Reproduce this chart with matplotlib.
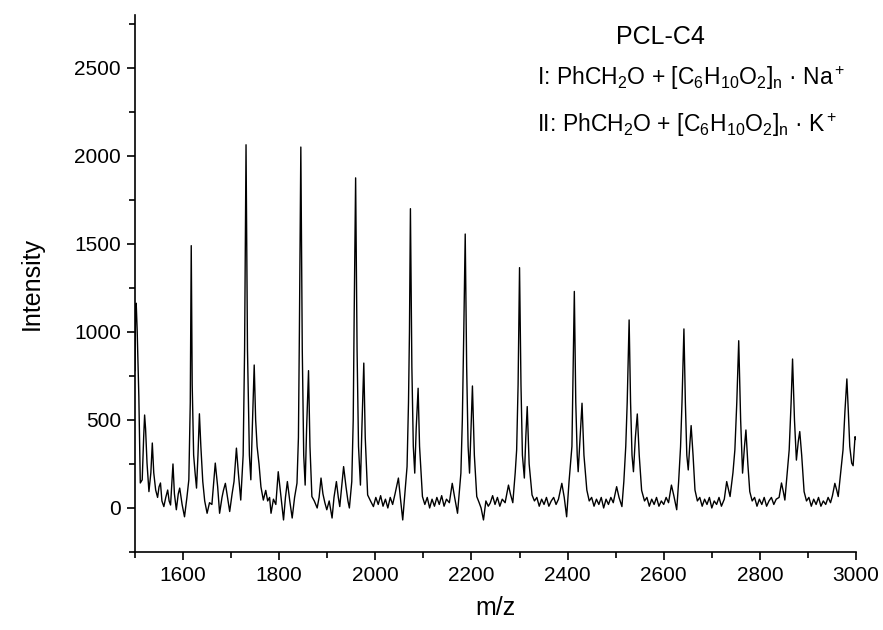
import matplotlib
matplotlib.use("Agg")
import matplotlib.pyplot as plt
from matplotlib.ticker import MultipleLocator

plt.rcParams['font.family'] = ['Liberation Sans', 'DejaVu Sans']
plt.rcParams['mathtext.fontset'] = 'custom'
plt.rcParams['mathtext.rm'] = 'Liberation Sans'
plt.rcParams['mathtext.it'] = 'Liberation Sans:italic'
plt.rcParams['mathtext.bf'] = 'Liberation Sans:bold'

# ---- data (m/z, intensity) ----
mz = [1500, 1501, 1502.5, 1504.5, 1508, 1511, 1515, 1518, 1520, 1522, 1525, 1529, 1533, 1536, 1539,
      1543, 1547, 1550, 1553, 1556, 1560, 1564, 1568, 1571, 1574, 1579, 1582, 1586, 1590, 1593,
      1598, 1603, 1608, 1612, 1615, 1617, 1619, 1622, 1625, 1628, 1631, 1634, 1637, 1641, 1645,
      1650, 1655, 1660, 1667, 1672, 1676, 1681, 1684, 1688, 1693, 1697, 1702, 1706, 1711, 1715,
      1720, 1725, 1728, 1731, 1734, 1738, 1741, 1744, 1748, 1751, 1754, 1758, 1762, 1767, 1772,
      1776, 1780, 1783, 1788, 1793, 1798, 1803, 1809, 1813, 1817, 1822, 1827, 1832, 1837, 1840,
      1842, 1845, 1848, 1851, 1854, 1857, 1861, 1864, 1868, 1873, 1879, 1883, 1887, 1891, 1895,
      1899, 1904, 1910, 1914, 1919, 1923, 1926, 1930, 1934, 1939, 1943, 1946, 1951, 1954, 1956,
      1959, 1962, 1965, 1969, 1972, 1976, 1979, 1984, 1990, 1996, 2001, 2006, 2011, 2016, 2021,
      2026, 2031, 2036, 2041, 2048, 2052, 2057, 2062, 2066, 2069, 2071, 2073, 2076, 2079, 2082,
      2085, 2089, 2092, 2098, 2103, 2108, 2113, 2118, 2123, 2128, 2133, 2138, 2143, 2148, 2154,
      2160, 2165, 2171, 2175, 2178, 2181, 2184, 2187, 2190, 2193, 2196, 2199, 2202, 2206, 2211,
      2216, 2220, 2225, 2230, 2235, 2239, 2244, 2249, 2254, 2259, 2264, 2270, 2277, 2281, 2286,
      2291, 2294, 2297, 2300, 2303, 2306, 2310, 2313, 2316, 2320, 2326, 2331, 2336, 2341, 2346,
      2351, 2356, 2361, 2366, 2371, 2376, 2381, 2388, 2393, 2398, 2403, 2409, 2411, 2414, 2417,
      2420, 2422, 2426, 2430, 2434, 2440, 2445, 2450, 2455, 2460, 2465, 2470, 2475, 2480, 2485,
      2490, 2495, 2502, 2507, 2513, 2517, 2521, 2524, 2528, 2531, 2534, 2537, 2541, 2545, 2549,
      2554, 2560, 2565, 2570, 2575, 2580, 2585, 2590, 2595, 2600, 2605, 2610, 2616, 2621, 2627,
      2631, 2635, 2638, 2642, 2645, 2648, 2651, 2654, 2657, 2661, 2665, 2670, 2675, 2680, 2685,
      2690, 2695, 2700, 2705, 2710, 2715, 2720, 2726, 2731, 2735, 2738, 2744, 2748, 2752, 2756,
      2760, 2764, 2768, 2771, 2775, 2779, 2784, 2789, 2794, 2799, 2804, 2809, 2814, 2819, 2824,
      2829, 2834, 2840, 2845, 2849, 2852, 2857, 2861, 2865, 2868, 2872, 2876, 2880, 2883, 2887,
      2892, 2897, 2902, 2907, 2912, 2917, 2922, 2927, 2932, 2937, 2942, 2947, 2951, 2956, 2960,
      2963, 2968, 2973, 2977, 2981, 2984, 2987, 2991, 2994, 2998, 3000]

intensity = [780, 1080, 1163, 1011, 632, 142, 160, 400, 528, 450, 255, 93, 200, 369, 200,
             102, 60, 120, 142, 40, 8, 60, 102, 40, 17, 250, 80, -10, 80, 113,
             20, -50, 60, 160, 600, 1490, 700, 300, 200, 113, 300, 535, 350, 150, 40,
             -30, 30, 20, 255, 120, -30, 60, 100, 140, 50, -20, 80, 150, 340, 200,
             45, 300, 900, 2063, 900, 300, 160, 450, 812, 500, 350, 250, 120, 45, 100,
             40, 60, -30, 50, 20, 206, 80, -68, 60, 150, 40, -57, 60, 141, 400,
             1000, 2050, 900, 300, 130, 450, 780, 350, 65, 40, 0, 60, 170, 80, 30,
             -10, 40, -57, 60, 150, 60, 8, 120, 235, 120, 40, 0, 150, 500, 1100,
             1875, 900, 350, 130, 450, 823, 400, 74, 40, 8, 60, 20, 70, 10, 50,
             0, 60, 20, 80, 170, 60, -68, 100, 235, 600, 1000, 1700, 800, 350, 198,
             450, 680, 350, 65, 20, 60, 0, 50, 10, 60, 20, 70, 10, 50, 30,
             140, 60, -30, 100, 198, 500, 1000, 1556, 800, 350, 198, 450, 693, 300, 65,
             30, 0, -68, 40, 10, 28, 70, 20, 60, 10, 50, 30, 130, 80, 30,
             200, 330, 700, 1365, 700, 300, 170, 400, 576, 250, 74, 40, 60, 10, 50,
             20, 60, 10, 40, 60, 20, 50, 140, 60, -50, 150, 350, 700, 1230, 600,
             300, 206, 400, 595, 300, 102, 40, 60, 10, 50, 20, 60, 0, 50, 20,
             60, 30, 121, 60, 8, 150, 350, 600, 1068, 600, 300, 206, 400, 534, 300,
             100, 40, 60, 10, 50, 20, 60, 10, 40, 20, 60, 30, 130, 70, -10,
             150, 348, 600, 1017, 600, 300, 216, 350, 468, 300, 102, 40, 60, 10, 50,
             20, 60, 0, 40, 20, 60, 10, 50, 150, 100, 65, 200, 330, 600, 950,
             500, 198, 350, 443, 250, 93, 40, 60, 10, 50, 20, 60, 10, 40, 60,
             20, 50, 60, 142, 90, 45, 200, 330, 600, 846, 500, 272, 380, 434, 300,
             93, 40, 60, 10, 50, 20, 60, 10, 40, 20, 60, 30, 70, 140, 100,
             65, 200, 330, 550, 733, 550, 350, 255, 240, 405, 390]

x_ticks = [1600, 1800, 2000, 2200, 2400, 2600, 2800, 3000]
y_ticks = [0, 500, 1000, 1500, 2000, 2500]

title_text = "PCL-C4"
label_I = r"I: PhCH$_2$O + [C$_6$H$_{10}$O$_2$]$_\mathrm{n}$ · Na$^+$"
label_II = r"II: PhCH$_2$O + [C$_6$H$_{10}$O$_2$]$_\mathrm{n}$ · K$^+$"

W, H = 883, 630
fig = plt.figure(figsize=(W / 100, H / 100), dpi=100)
ax = fig.add_axes([135 / W, 1 - 552 / H, (856 - 135) / W, (552 - 15) / H])

ax.plot(mz, intensity, color='black', lw=1.0)

ax.set_xlim(1500, 3000)
ax.set_ylim(-250, 2800)
ax.set_xticks(x_ticks)
ax.set_yticks(y_ticks)
ax.xaxis.set_minor_locator(MultipleLocator(100))
ax.yaxis.set_minor_locator(MultipleLocator(250))

for s in ['top', 'right']:
    ax.spines[s].set_visible(False)
for s in ['left', 'bottom']:
    ax.spines[s].set_linewidth(1.2)

ax.tick_params(axis='both', which='major', direction='out', length=6, width=1.2,
               labelsize=15, pad=4)
ax.tick_params(axis='both', which='minor', direction='out', length=4, width=1.2)

ax.set_xlabel("m/z", fontsize=18, labelpad=8)
ax.set_ylabel("Intensity", fontsize=18, labelpad=22)

fig.text(660 / W, 1 - 44 / H, title_text, fontsize=18, ha='center', va='baseline')
fig.text(537 / W, 1 - 85 / H, label_I, fontsize=16.5, ha='left', va='baseline')
fig.text(537 / W, 1 - 132 / H, label_II, fontsize=16.5, ha='left', va='baseline')

fig.savefig("out.png", dpi=100)
